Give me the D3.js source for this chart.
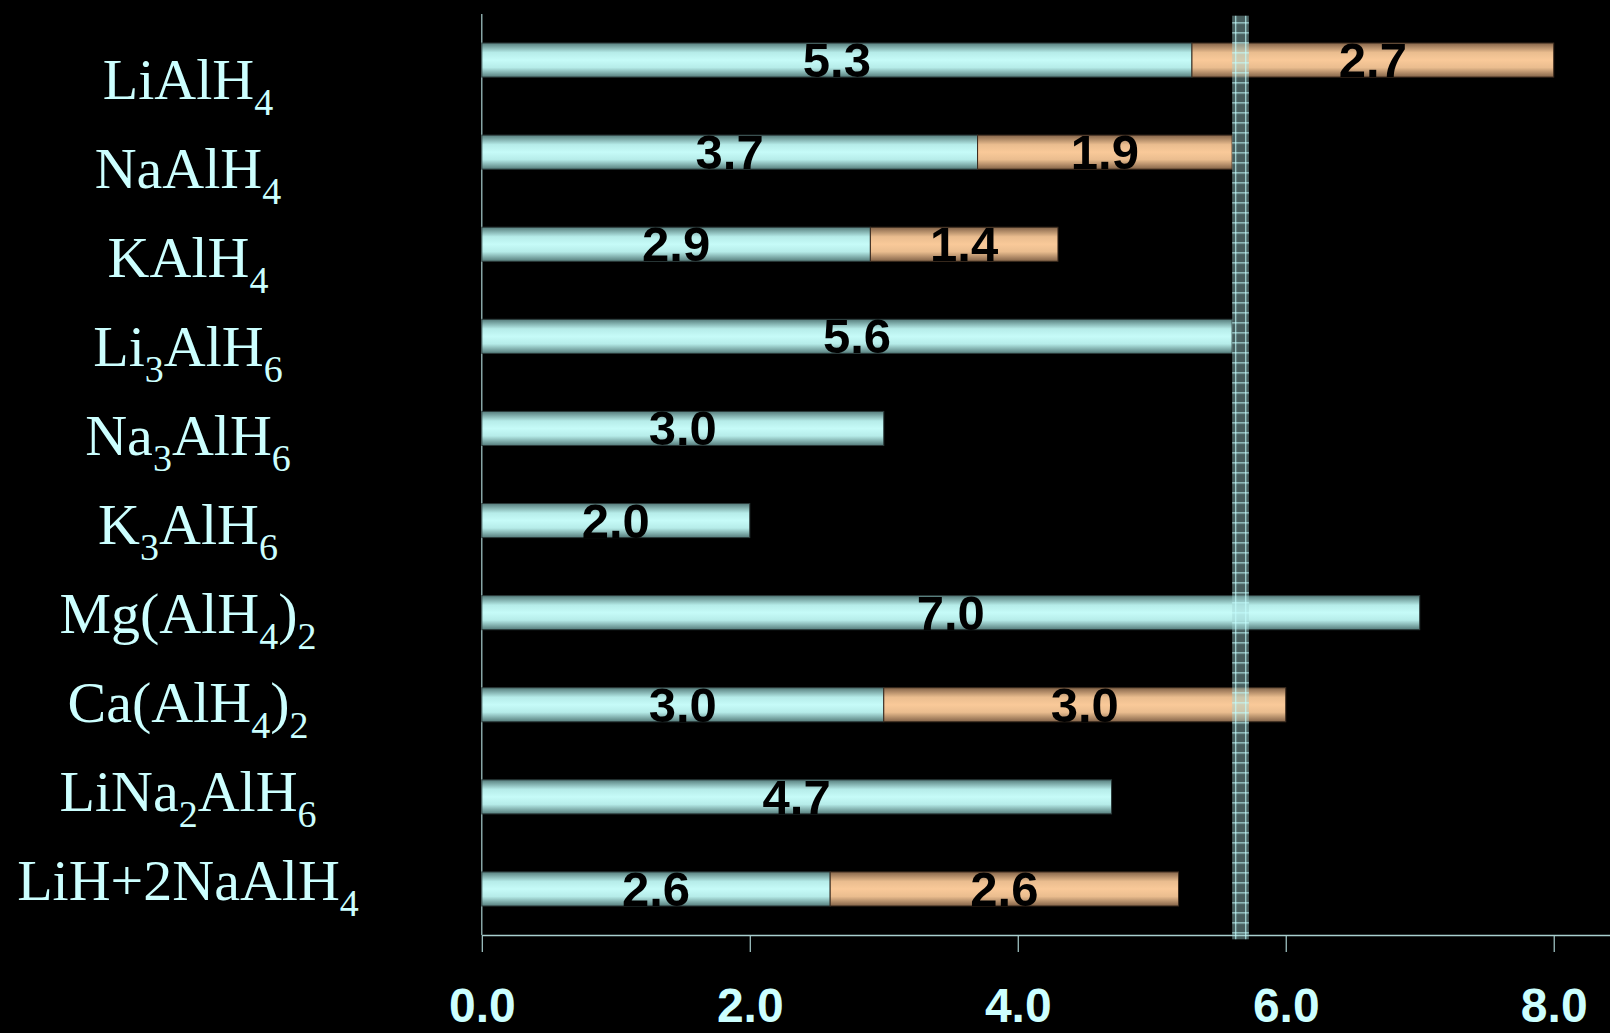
<!DOCTYPE html>
<html>
<head>
<meta charset="utf-8">
<script src="https://cdn.jsdelivr.net/npm/d3@7"></script>
<style>
  html, body { margin: 0; padding: 0; background: #000; }
  svg { display: block; }
</style>
</head>
<body>
<svg id="chart" width="1610" height="1033"></svg>
<script>
// Hydrogen capacity of alanates (wt%): first and second decomposition steps
const compounds = ["LiAlH_4", "NaAlH_4", "KAlH_4", "Li_3AlH_6", "Na_3AlH_6", "K_3AlH_6",
                   "Mg(AlH_4)_2", "Ca(AlH_4)_2", "LiNa_2AlH_6", "LiH+2NaAlH_4"];
const stepOne = [5.3, 3.7, 2.9, 5.6, 3.0, 2.0, 7.0, 3.0, 4.7, 2.6];
const stepTwo = [2.7, 1.9, 1.4, 0, 0, 0, 0, 3.0, 0, 2.6];
const tickValues = [0, 2, 4, 6, 8];
// target zone marked by the hatched vertical strip
const targetZone = [5.6, 5.725];

const W = 1610, H = 1033;
const svg = d3.select("#chart");
svg.append("rect").attr("width", W).attr("height", H).attr("fill", "#000");

const x = d3.scaleLinear().domain([0, 8.42]).range([481.8, 1610]);
const y = d3.scaleBand().domain(compounds).range([14, 935]).paddingInner(0.63).paddingOuter(0.315);
const labelY = d3.scalePoint().domain(compounds).range([99, 900]);

const defs = svg.append("defs");
function barGradient(id, edge, mid, center) {
  const g = defs.append("linearGradient").attr("id", id)
    .attr("x1", 0).attr("y1", 0).attr("x2", 0).attr("y2", 1);
  [[0, edge], [0.28, mid], [0.5, center], [0.72, mid], [1, edge]].forEach(([o, c]) =>
    g.append("stop").attr("offset", o).attr("stop-color", c));
}
barGradient("gradCyan", "#567d7c", "#b6ece9", "#c6fbf8");
barGradient("gradOrange", "#846449", "#eabd8f", "#f9c999");

// hatched strip pattern
const pat = defs.append("pattern").attr("id", "hatch")
  .attr("patternUnits", "userSpaceOnUse")
  .attr("x", x(targetZone[0]) + 3).attr("y", 12.3)
  .attr("width", 10).attr("height", 10);
pat.append("rect").attr("width", 10).attr("height", 10).attr("fill", "rgba(160,210,210,0.45)");
pat.append("rect").attr("x", 0).attr("y", 0).attr("width", 1.2).attr("height", 10).attr("fill", "rgba(195,252,252,0.8)");
pat.append("rect").attr("x", 0).attr("y", 0).attr("width", 10).attr("height", 1.2).attr("fill", "rgba(195,252,252,0.8)");

// axes
const axisColor = "#a9cfcf";
const xAxis = svg.append("g").attr("transform", "translate(0,935)")
  .call(d3.axisBottom(x).tickValues(tickValues).tickFormat(d3.format(".1f")).tickSize(17).tickSizeOuter(0));
xAxis.select(".domain").attr("stroke", axisColor).attr("stroke-width", 1.5);
xAxis.selectAll(".tick line").attr("stroke", axisColor).attr("stroke-width", 1.2);
xAxis.selectAll(".tick text")
  .attr("y", 87).attr("dy", 0)
  .attr("fill", "#ccffff")
  .attr("font-family", "'Liberation Sans', Arial, sans-serif")
  .attr("font-weight", "bold")
  .attr("font-size", 48);

svg.append("line")
  .attr("x1", x(0)).attr("x2", x(0)).attr("y1", 14).attr("y2", 935)
  .attr("stroke", axisColor).attr("stroke-width", 1.2);

// stacked bars
const rows = compounds.map((c, i) => ({ name: c, a: stepOne[i], b: stepTwo[i] }));
const bars = svg.append("g");
rows.forEach(r => {
  bars.append("rect")
    .attr("x", x(0)).attr("y", y(r.name))
    .attr("width", x(r.a) - x(0)).attr("height", y.bandwidth())
    .attr("fill", "url(#gradCyan)").attr("stroke", "#2b3a3a").attr("stroke-width", 1);
  if (r.b > 0) {
    bars.append("rect")
      .attr("x", x(r.a)).attr("y", y(r.name))
      .attr("width", x(r.a + r.b) - x(r.a)).attr("height", y.bandwidth())
      .attr("fill", "url(#gradOrange)").attr("stroke", "#3a2a1e").attr("stroke-width", 1);
  }
});

// target strip, drawn over the bars
svg.append("rect")
  .attr("x", x(targetZone[0])).attr("y", 15.7)
  .attr("width", x(targetZone[1]) - x(targetZone[0])).attr("height", 939.3 - 15.7)
  .attr("fill", "url(#hatch)");

// value labels centred on each segment
const valueFont = "'Liberation Sans', Arial, sans-serif";
rows.forEach(r => {
  const cy = y(r.name) + y.bandwidth() / 2;
  const segs = [[0, r.a]];
  if (r.b > 0) segs.push([r.a, r.a + r.b]);
  segs.forEach(([s, e]) => {
    svg.append("text")
      .attr("x", x((s + e) / 2)).attr("y", cy + 17)
      .attr("text-anchor", "middle")
      .attr("font-family", valueFont).attr("font-weight", "bold").attr("font-size", 49)
      .attr("fill", "#000")
      .text((e - s).toFixed(1));
  });
});

// compound names with subscripts
rows.forEach(r => {
  const t = svg.append("text")
    .attr("x", 188).attr("y", labelY(r.name))
    .attr("text-anchor", "middle")
    .attr("font-family", "'Liberation Serif', 'Times New Roman', serif")
    .attr("font-size", 58)
    .attr("fill", "#ccffff");
  const parts = r.name.split(/_(\d+)/);
  parts.forEach((p, k) => {
    if (p === "") return;
    if (k % 2 === 1) {
      t.append("tspan").attr("font-size", 38).attr("dy", 16).text(p);
    } else {
      const ts = t.append("tspan").text(p);
      if (k > 0) ts.attr("dy", -16);
    }
  });
});
</script>
</body>
</html>
